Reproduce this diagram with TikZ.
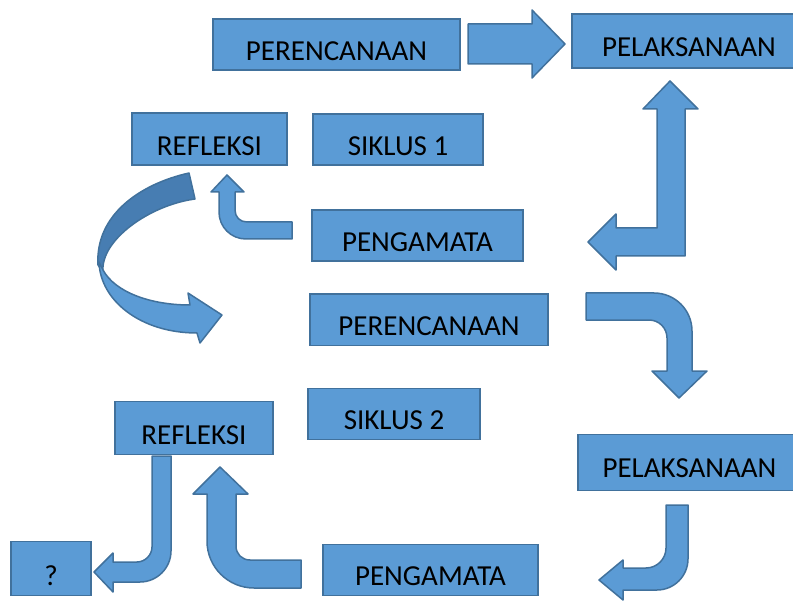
\documentclass[tikz,border=0pt]{standalone}
\usepackage{fontspec}
\setmainfont{Carlito}
\usepackage{tikz}
\definecolor{isi}{RGB}{91,155,213}
\definecolor{garis}{RGB}{65,113,156}
\definecolor{gelap}{RGB}{71,125,178}

\begin{document}
\begin{tikzpicture}
  [x=1pt,y=-1pt,
   every node/.style={draw=garis,fill=isi,line width=1.5pt,inner sep=0pt,anchor=south,text depth=10pt,font=\fontsize{29}{34}\selectfont},
   panah/.style={draw=garis,fill=isi,line width=1.5pt,line join=round}]
  \useasboundingbox (0,0) rectangle (793,604);
  \node[minimum width=247pt,text height=41pt] (n1) at (336.5,71) {PERENCANAAN};
  \node[minimum width=234pt,text height=42pt,text depth=12pt] (n2) at (689,69) {PELAKSANAAN};
  \node[minimum width=155pt,text height=42pt] (n3) at (209.5,166) {REFLEKSI};
  \node[minimum width=170pt,text height=41pt] (n4) at (398,166) {SIKLUS 1};
  \node[minimum width=211pt,text height=41pt] (n5) at (417.5,262) {PENGAMATA};
  \node[minimum width=238pt,text height=41pt] (n6) at (429,346) {PERENCANAAN};
  \node[minimum width=172pt,text height=41pt] (n7) at (394,440) {SIKLUS 2};
  \node[minimum width=158pt,text height=43pt] (n8) at (194,455) {REFLEKSI};
  \node[minimum width=223pt,text height=43pt,text depth=13pt] (n9) at (689.5,491) {PELAKSANAAN};
  \node[minimum width=215pt,text height=41pt] (n10) at (430.5,596) {PENGAMATA};
  \node[minimum width=80pt,text height=44pt] (n11) at (51,596) {?};

  \draw[panah] (468,24) -- (532,24) -- (532,10) -- (565,44) -- (532,78) -- (532,64) -- (468,64) -- cycle;
  \draw[panah] (670,81) -- (698,109) -- (685,109) -- (685,256) -- (616,256) -- (616,270) -- (588,242)
    -- (616,214) -- (616,228) -- (657,228) -- (657,109) -- (643,109) -- cycle;
  \draw[panah] (586,293) -- (654,293) .. controls (675,293) and (692,310) .. (692,331) -- (692,371) -- (707,371)
    -- (679,398) -- (652,371) -- (667,371) -- (667,338) .. controls (667,328) and (659,320) .. (649,320) -- (586,320) -- cycle;
  \draw[panah] (666,505) -- (688,505) -- (688,559) .. controls (688,576) and (674,590) .. (657,590) -- (623,590) -- (623,600)
    -- (599,580) -- (623,560) -- (623,568) -- (646,568) .. controls (657,568) and (666,559) .. (666,548) -- cycle;
  \draw[panah] (152,456) -- (171,456) -- (171,551) .. controls (171,568) and (157,582) .. (140,582) -- (113,582) -- (113,592)
    -- (94,572) -- (113,553) -- (113,562) -- (137,562) .. controls (145,562) and (152,555) .. (152,547) -- cycle;
  \draw[panah] (301,560) -- (250,560) .. controls (242,560) and (236,554) .. (236,546) -- (236,494) -- (248,494) -- (220,467)
    -- (193,494) -- (207,494) -- (207,541) .. controls (207,567) and (228,588) .. (254,588) -- (301,588) -- cycle;
  \draw[panah] (292,222) -- (247,222) .. controls (240,222) and (235,217) .. (235,210) -- (235,192) -- (244,192) -- (227,175)
    -- (211,192) -- (219,192) -- (219,212) .. controls (219,227) and (231,239) .. (246,239) -- (292,239) -- cycle;
  \draw[panah,fill=gelap] (189,173) .. controls (140,184) and (95,215) .. (98,265) -- (103,272)
    .. controls (100,240) and (150,205) .. (195,199) -- cycle;
  \draw[panah] (99,262) .. controls (100,300) and (140,333) .. (197,333) -- (200,343) -- (222,315) -- (188,293) -- (190,305)
    .. controls (150,305) and (115,292) .. (103,270) -- cycle;
\end{tikzpicture}
\end{document}
